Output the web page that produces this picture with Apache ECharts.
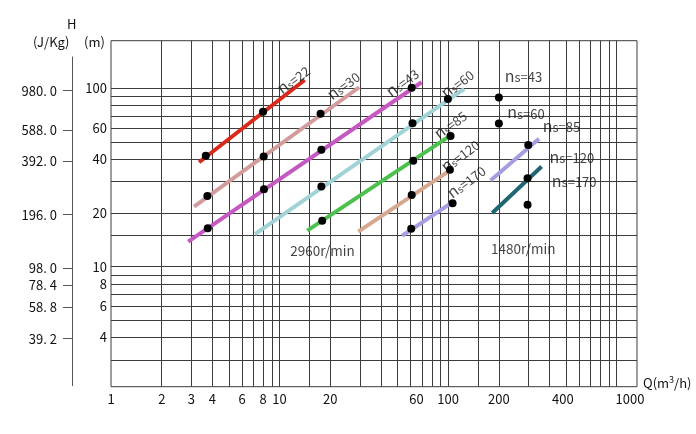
<!DOCTYPE html>
<html>
<head>
<meta charset="utf-8">
<script src="https://cdn.jsdelivr.net/npm/echarts@6/dist/echarts.min.js"></script>
<style>
  html, body { margin: 0; padding: 0; background: #fff; }
  #chart { width: 696px; height: 434px; }
</style>
</head>
<body>
<div id="chart"></div>
<script>
// 比转速 ns 系列 (2960 r/min)
var ns2960 = ['22', '30', '43', '60', '85', '120', '170']
var color2960 = ['#d9291b', '#d29c9c', '#c658c2', '#a0d2d6', '#4cc04c', '#d7a88f', '#a99de0']
var lineStart2960 = [[3.33, 38.5], [3.11, 21.7], [2.87, 13.8], [7.15, 15.2], [14.6, 15.9], [29.3, 15.7], [53.4, 14.9]]
var lineEnd2960 = [[14.1, 111.4], [29.7, 101.4], [69.6, 108.2], [124.6, 99.2], [102.5, 54.1], [100, 34.1], [102.5, 22.5]]
var dots2960 = [
    [3.65, 41.8], [7.98, 73.8],
    [3.73, 24.9], [8.05, 41.4], [17.5, 72.1],
    [3.75, 16.4], [8.08, 27.2], [17.7, 45.3], [60.8, 100.9],
    [17.7, 28.1], [61.5, 63.7], [99.7, 87.2],
    [17.9, 18.1], [62.1, 39.3], [103.4, 54.1],
    [60.8, 25.2], [102.5, 34.9],
    [60.4, 16.3], [106.3, 22.7]
]

// 1480 r/min
var ns1480 = ['43', '60', '85', '120', '170']
var color1480 = ['#a49ee0', '#1f6672']
var lineStart1480 = [[178.6, 30.4], [182.7, 20.0]]
var lineEnd1480 = [[346, 52.2], [358.6, 36.4]]
var dots1480 = [[200, 88.7], [200, 63.4], [298.8, 48.1], [296, 31.3], [296, 22.2]]

// 坐标轴刻度
var qGridValues = [2, 3, 4, 5, 6, 7, 8, 9, 10, 15, 20, 30, 40, 50, 60, 70, 80, 90, 100, 150, 200, 300, 400, 500, 600, 700, 800, 900, 1000]
var hGridValues = [3, 4, 5, 6, 7, 8, 9, 10, 15, 20, 30, 40, 50, 60, 70, 80, 90, 100]
var qLabelAt = [1, 2, 3, 4, 6, 8, 10, 20, 65, 100, 200, 480, 1200]
var qLabelText = ['1', '2', '3', '4', '6', '8', '10', '20', '60', '100', '200', '400', '1000']
var hLabelValues = [4, 6, 8, 10, 20, 40, 60, 100]
var jLabelValues = [39.2, 58.8, 78.4, 98, 196, 392, 588, 980]
var jLabelText = ['39. 2', '58. 8', '78. 4', '98. 0', '196. 0', '392. 0', '588. 0', '980. 0']

// 注释文字的位置 (数据坐标)
var tagAt2960 = [[12.0, 112.9], [23.8, 104.5], [53.2, 108.6], [112.8, 107.2], [102.5, 63.1], [117.5, 42.3], [127.5, 30.2]]
var tagAt1480 = [[279.7, 117.4], [289.3, 73.4], [470, 61.5], [542, 41.2], [559.6, 30.2]]
var speedText = ['2960r/min', '1480r/min']
var speedAt = [[17.97, 12.25], [279, 12.57]]

var FONT = '"Noto Sans CJK JP", "DejaVu Sans", sans-serif'
var GRID_COLOR = '#3c3c3c'
var TEXT_COLOR = '#111'

function nearestText(values, texts, v) {
    var best = 0
    for (var i = 1; i < values.length; i++) {
        if (Math.abs(Math.log(values[i] / v)) < Math.abs(Math.log(values[best] / v))) best = i
    }
    return texts[best]
}

var nsRich = {
    n: { fontSize: 16, fontFamily: FONT, color: TEXT_COLOR, verticalAlign: 'bottom' },
    s: { fontSize: 10, fontFamily: FONT, color: TEXT_COLOR, verticalAlign: 'bottom' },
    s2: { fontSize: 13, fontFamily: FONT, color: TEXT_COLOR, verticalAlign: 'bottom' },
    t: { fontSize: 13, fontFamily: FONT, color: TEXT_COLOR, verticalAlign: 'bottom' },
    sp: { fontSize: 13.5, fontFamily: FONT, color: TEXT_COLOR, letterSpacing: 0.8 }
}

var series = []

// 2960 r/min 直线
ns2960.forEach(function(ns, i) {
    series.push({
        name: 'ns=' + ns,
        type: 'line',
        data: [lineStart2960[i], lineEnd2960[i]],
        symbol: 'none',
        silent: true,
        lineStyle: { color: color2960[i], width: 4 },
        z: 3
    })
})
// 1480 r/min 直线 (ns=85, ns=120)
color1480.forEach(function(c, i) {
    series.push({
        name: '1480 ns=' + ns1480[i + 2],
        type: 'line',
        data: [lineStart1480[i], lineEnd1480[i]],
        symbol: 'none',
        silent: true,
        lineStyle: { color: c, width: 4 },
        z: 3
    })
})
// 黑点
series.push({
    type: 'scatter',
    data: dots2960.concat(dots1480),
    symbolSize: 8,
    itemStyle: { color: '#000', opacity: 1 },
    silent: true,
    z: 4
})
// 文字
var tagData = []
ns2960.forEach(function(ns, i) {
    tagData.push({
        value: tagAt2960[i],
        label: { rotate: 37, formatter: '{n|n}{s|s}{t|=' + ns + '}' }
    })
})
ns1480.forEach(function(ns, i) {
    tagData.push({
        value: tagAt1480[i],
        label: { rotate: 0, formatter: '{n|n}{s2|s=' + ns + '}' }
    })
})
speedText.forEach(function(t, i) {
    tagData.push({
        value: speedAt[i],
        label: { rotate: 0, formatter: '{sp|' + t + '}' }
    })
})
series.push({
    type: 'scatter',
    data: tagData,
    symbolSize: 0,
    silent: true,
    label: { show: true, position: 'inside', rich: nsRich },
    z: 5
})
// 左侧 J/Kg 轴需要一个系列
series.push({
    type: 'line',
    xAxisIndex: 1,
    yAxisIndex: 1,
    data: [],
    silent: true
})

var myEcharts = echarts.init(document.getElementById('chart'))
var option = {
    animation: false,
    backgroundColor: '#fff',
    grid: [
        { left: 111, right: 59, top: 40.7, bottom: 47.3, show: true, borderColor: GRID_COLOR, borderWidth: 1, containLabel: false },
        { left: 72, width: 1, top: 57, bottom: 48.3, containLabel: false }
    ],
    xAxis: [{
        gridIndex: 0,
        type: 'log',
        min: 1,
        max: 1320,
        name: 'Q(m{sup|3}/h)',
        nameLocation: 'end',
        nameGap: 6,
        nameTextStyle: {
            fontFamily: FONT, fontSize: 13, color: TEXT_COLOR, padding: [0, 0, 8, 0],
            rich: { sup: { fontSize: 9, fontFamily: FONT, color: TEXT_COLOR, verticalAlign: 'top', padding: [0, 0, 6, 0] } }
        },
        axisLine: { show: false },
        axisTick: { show: false, customValues: qGridValues },
        splitLine: { show: true, lineStyle: { color: GRID_COLOR, width: 1 } },
        axisLabel: {
            customValues: qLabelAt,
            margin: 6,
            fontFamily: FONT,
            fontSize: 13,
            color: TEXT_COLOR,
            formatter: function(v) { return nearestText(qLabelAt, qLabelText, v) }
        }
    }, {
        gridIndex: 1,
        type: 'value',
        show: false
    }],
    yAxis: [{
        gridIndex: 0,
        type: 'log',
        min: 2.12,
        max: 185,
        axisLine: { show: false },
        axisTick: { show: false, customValues: hGridValues },
        splitLine: { show: true, lineStyle: { color: GRID_COLOR, width: 1 } },
        axisLabel: {
            customValues: hLabelValues,
            margin: 4,
            fontFamily: FONT,
            fontSize: 13,
            color: TEXT_COLOR,
            formatter: function(v) { return String(nearestText(hLabelValues, hLabelValues, v)) }
        }
    }, {
        gridIndex: 1,
        type: 'log',
        position: 'left',
        min: 21.3,
        max: 1517,
        axisLine: { show: true, lineStyle: { color: '#555', width: 1 } },
        axisTick: { show: true, inside: false, length: 9, customValues: jLabelValues, lineStyle: { color: '#555' } },
        splitLine: { show: false },
        axisLabel: {
            customValues: jLabelValues,
            margin: 15,
            fontFamily: FONT,
            fontSize: 13,
            color: TEXT_COLOR,
            formatter: function(v) { return nearestText(jLabelValues, jLabelText, v) }
        }
    }],
    graphic: [
        { type: 'text', left: 67, top: 18, style: { text: 'H', fontFamily: FONT, fontSize: 13, fill: TEXT_COLOR } },
        { type: 'text', left: 33, top: 36, style: { text: '(J/Kg)', fontFamily: FONT, fontSize: 13, fill: TEXT_COLOR } },
        { type: 'text', left: 84, top: 36, style: { text: '(m)', fontFamily: FONT, fontSize: 13, fill: TEXT_COLOR } }
    ],
    series: series
}
myEcharts.setOption(option)
</script>
</body>
</html>
